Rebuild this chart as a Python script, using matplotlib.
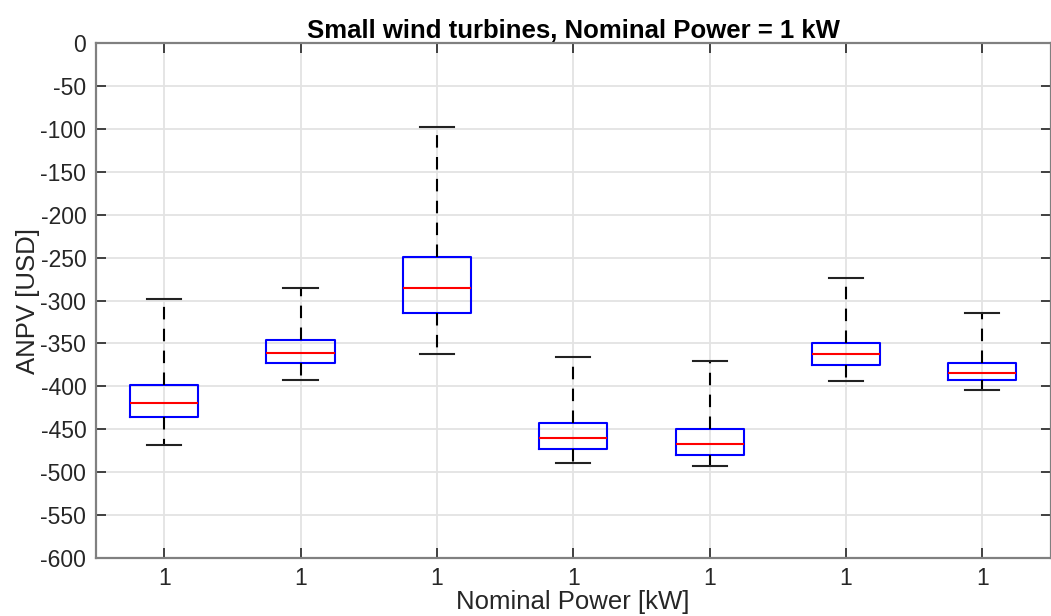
import matplotlib.pyplot as plt

plt.rcParams['font.family'] = ['Liberation Sans', 'DejaVu Sans']
plt.rcParams['axes.unicode_minus'] = False

# box statistics per turbine (ANPV in USD)
labels = ['1', '1', '1', '1', '1', '1', '1']
whis_hi = [-298, -286, -98, -366, -371, -274, -315]
q3 = [-399, -346, -249, -443, -450, -349, -373]
med = [-420, -361, -286, -460, -467, -362, -385]
q1 = [-436, -373, -315, -473, -480, -375, -393]
whis_lo = [-469, -393, -362, -490, -493, -394, -404]

stats = []
for i in range(len(labels)):
    stats.append({'label': labels[i], 'med': med[i], 'q1': q1[i], 'q3': q3[i],
                  'whislo': whis_lo[i], 'whishi': whis_hi[i], 'fliers': []})

fig = plt.figure(figsize=(10.51, 6.16), dpi=100)
ax = fig.add_axes([96 / 1051, 1 - 557.7 / 616, (1050.5 - 96) / 1051, (557.7 - 43.3) / 616])

ax.bxp(stats, positions=range(1, 8), widths=0.5, showfliers=False,
       boxprops=dict(color='#0000ff', linewidth=1.5),
       medianprops=dict(color='#ff0000', linewidth=1.5),
       whiskerprops=dict(color='black', linewidth=1.5, linestyle=(0, (6, 4.5))),
       capprops=dict(color='#222222', linewidth=1.5),
       capwidths=0.25)

ax.set_xlim(0.5, 7.5)
ax.set_ylim(-600, 0)
ax.set_yticks(range(-600, 1, 50))
ax.grid(True, color='#e3e3e3', linewidth=1.3)
ax.set_axisbelow(True)

for s in ax.spines.values():
    s.set_color('#808080')
    s.set_linewidth(1.6)

ax.tick_params(direction='in', length=7, width=1.3, color='#333333',
               labelsize=16.5, labelcolor='#262626', top=True, right=True, pad=7)

ax.set_title('Small wind turbines, Nominal Power = 1 kW', fontsize=18.5,
             fontweight='bold', pad=4)
ax.set_xlabel('Nominal Power [kW]', fontsize=18.5, color='#262626', labelpad=0)
ax.set_ylabel('ANPV [USD]', fontsize=18.5, color='#262626', labelpad=0)

fig.savefig('out.png', dpi=100)
